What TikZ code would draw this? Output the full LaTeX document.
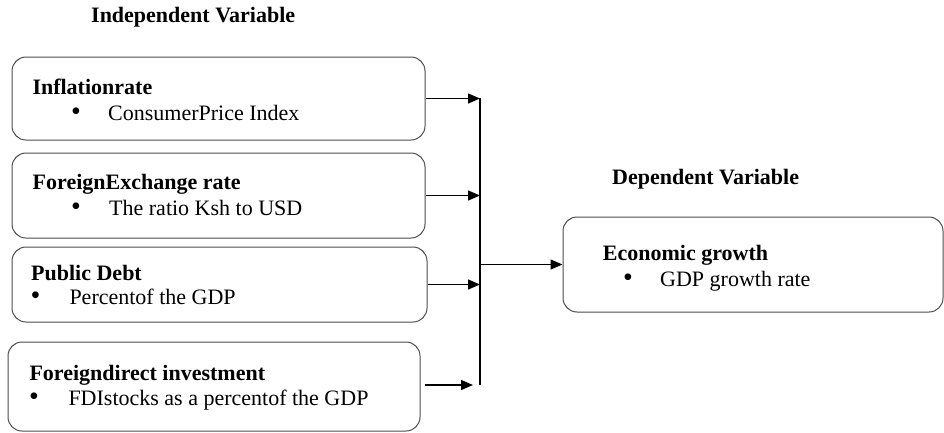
\documentclass[tikz,border=0pt]{standalone}
\usepackage{fontspec}
\setmainfont{Liberation Serif}
\usetikzlibrary{arrows.meta}
\begin{document}
\begin{tikzpicture}[x=1pt,y=-1pt,
    varbox/.style={draw=black!70, line width=1pt, rounded corners=14pt, inner sep=0pt},
    lbl/.style={anchor=base west, inner sep=0pt, font=\fontsize{22}{26}\selectfont},
    bul/.style={anchor=base west, inner sep=0pt, font=\fontsize{28}{26}\selectfont},
    hd/.style={anchor=base west, inner sep=0pt, font=\fontsize{22}{26}\selectfont\bfseries},
    link/.style={line width=1.3pt, -{Triangle[length=12pt,width=10pt]}}]
    \useasboundingbox (0,0) rectangle (944,432);
    % boxes
    \node[varbox, minimum width=413pt, minimum height=83pt] (infl) at (218.5,98.5) {};
    \node[varbox, minimum width=413pt, minimum height=85pt] (fx) at (218.5,195.5) {};
    \node[varbox, minimum width=415pt, minimum height=75pt] (debt) at (219.5,284.5) {};
    \node[varbox, minimum width=412pt, minimum height=89pt] (fdi) at (214,386.5) {};
    \node[varbox, minimum width=380pt, minimum height=95pt] (growth) at (753,264.5) {};
    % headings
    \node[hd] (indep) at (91,22.7) {Independent Variable};
    \node[hd] (dep) at (612,184) {Dependent Variable};
    % texts
    \node[hd] (infltitle) at (32.3,94) {Inflationrate};
    \node[bul] (inflbul) at (71,120) {\textbullet};
    \node[lbl] (inflitem) at (108,120) {ConsumerPrice Index};
    \node[hd] (fxtitle) at (32.5,189) {ForeignExchange rate};
    \node[bul] (fxbul) at (71,215) {\textbullet};
    \node[lbl] (fxitem) at (109,215) {The ratio Ksh to USD};
    \node[hd] (debttitle) at (31,280) {Public Debt};
    \node[bul] (debtbul) at (30.5,304) {\textbullet};
    \node[lbl] (debtitem) at (69.3,304) {Percentof the GDP};
    \node[hd] (fdititle) at (29.3,380) {Foreigndirect investment};
    \node[bul] (fdibul) at (29,405.5) {\textbullet};
    \node[lbl] (fdiitem) at (68.3,405.5) {FDIstocks as a percentof the GDP};
    \node[hd] (growthtitle) at (602.7,260) {Economic growth};
    \node[bul] (growthbul) at (623,286) {\textbullet};
    \node[lbl] (growthitem) at (660,286) {GDP growth rate};
    % connectors
    \coordinate (jtop) at (480,98);
    \coordinate (jbot) at (480,385);
    \coordinate (jmid) at (480,264.5);
    \coordinate (fdiend) at (473,385);
    \draw[line width=1.3pt] (jtop) -- (jbot);
    \draw[link] (infl.east) -- (infl.east -| jtop);
    \draw[link] (fx.east) -- (fx.east -| jtop);
    \draw[link] (debt.east) -- (debt.east -| jtop);
    \draw[link] ([xshift=4pt]fdi.east |- fdiend) -- (fdiend);
    \draw[link] (jmid) -- (growth.west);
\end{tikzpicture}
\end{document}
